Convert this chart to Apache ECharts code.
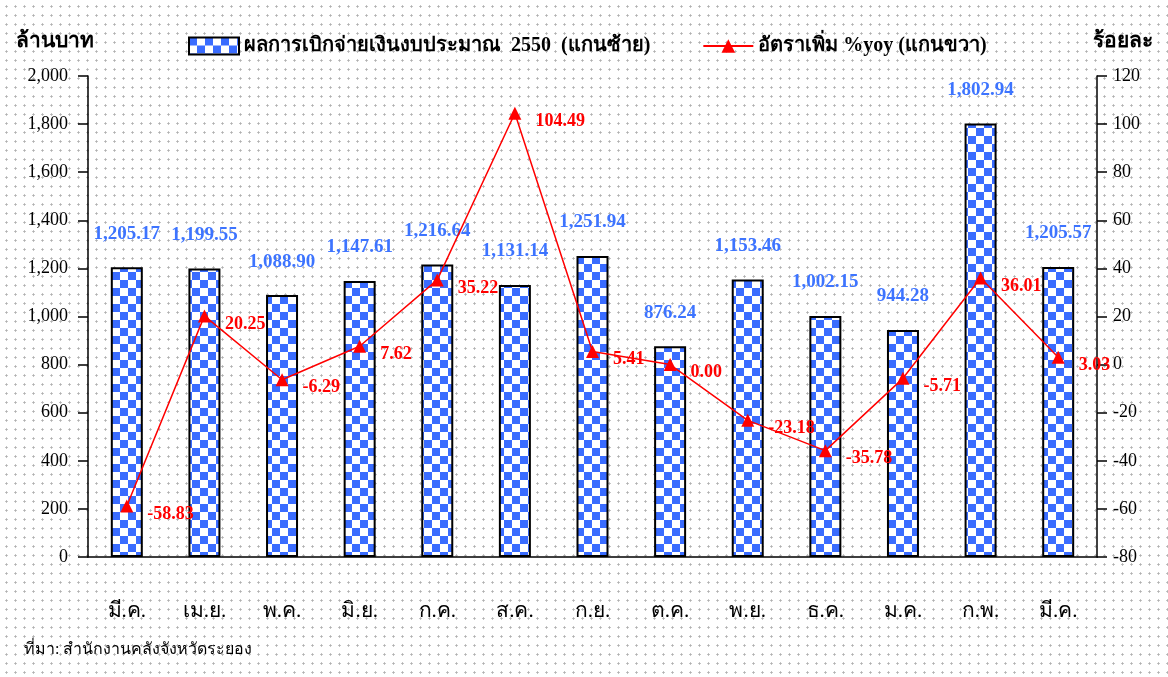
<!DOCTYPE html>
<html>
<head>
<meta charset="utf-8">
<script src="https://cdn.jsdelivr.net/npm/echarts@6/dist/echarts.min.js"></script>
<style>
  html, body { margin: 0; padding: 0; background: #fff; }
  #chart-container {
    width: 1168px; height: 677px;
    background-color: #fff;
    background-image: radial-gradient(#b0b0b0 0.9px, transparent 1.3px);
    background-size: 9px 9px;
    background-position: 2px 2px;
  }
</style>
</head>
<body>
<div id="chart-container"></div>
<script>
// Datos del gráfico
const meses = ['มี.ค.', 'เม.ย.', 'พ.ค.', 'มิ.ย.', 'ก.ค.', 'ส.ค.', 'ก.ย.', 'ต.ค.', 'พ.ย.', 'ธ.ค.', 'ม.ค.', 'ก.พ.', 'มี.ค.'];
const gastos = [1205.17, 1199.55, 1088.90, 1147.61, 1216.64, 1131.14, 1251.94, 876.24, 1153.46, 1002.15, 944.28, 1802.94, 1205.57];
const yoy = [-58.83, 20.25, -6.29, 7.62, 35.22, 104.49, 5.41, 0.00, -23.18, -35.78, -5.71, 36.01, 3.03];
const nombreBarras = 'ผลการเบิกจ่ายเงินงบประมาณ  2550  (แกนซ้าย)';
const nombreLinea = 'อัตราเพิ่ม %yoy (แกนขวา)';

const fuente = 'Liberation Serif, DejaVu Serif, serif';

// Patrón de cuadros para las barras
function patronCuadros() {
    const c = document.createElement('canvas');
    c.width = 16; c.height = 16;
    const ctx = c.getContext('2d');
    ctx.fillStyle = '#ffffff';
    ctx.fillRect(0, 0, 16, 16);
    ctx.fillStyle = '#3a6cff';
    ctx.fillRect(0, 0, 8, 8);
    ctx.fillRect(8, 8, 8, 8);
    return c;
}

function fmt(v) {
    return v.toLocaleString('en-US', { minimumFractionDigits: 2, maximumFractionDigits: 2 });
}

function initChart() {
    const chartDom = document.getElementById('chart-container');
    const myChart = echarts.init(chartDom, null, { renderer: 'canvas', devicePixelRatio: 1 });
    const patron = { image: patronCuadros(), repeat: 'repeat', imageWidth: 16, imageHeight: 16 };

    const option = {
        backgroundColor: 'transparent',
        textStyle: { fontFamily: fuente },
        animation: false,
        legend: {
            top: 31,
            left: 183,
            itemGap: 52,
            itemWidth: 50,
            itemHeight: 17,
            textStyle: { fontFamily: fuente, fontSize: 20, fontWeight: 'bold', color: '#000' },
            data: [{ name: nombreBarras, icon: 'rect' }, { name: nombreLinea }]
        },
        grid: { left: 88, right: 71, top: 76, bottom: 120 },
        xAxis: {
            type: 'category',
            data: meses,
            axisLine: { lineStyle: { color: '#000', width: 1.5 } },
            axisTick: { length: 12, lineStyle: { color: '#000', width: 1.5 } },
            axisLabel: { margin: 44, fontSize: 21, color: '#000', fontFamily: fuente }
        },
        yAxis: [{
            type: 'value',
            min: 0, max: 2000, interval: 200,
            name: 'ล้านบาท',
            nameGap: 24,
            nameTextStyle: { align: 'right', fontSize: 21, fontWeight: 'bold', color: '#000', fontFamily: fuente, padding: [0, -6, 0, 0] },
            splitLine: { show: false },
            axisLine: { show: true, lineStyle: { color: '#000', width: 1.5 } },
            axisTick: { show: true, length: 10, lineStyle: { color: '#000', width: 1.5 } },
            axisLabel: { fontSize: 18, color: '#000', margin: 20, fontFamily: fuente,
                formatter: v => v.toLocaleString('en-US') }
        }, {
            type: 'value',
            min: -80, max: 120, interval: 20,
            name: 'ร้อยละ',
            nameGap: 24,
            nameTextStyle: { align: 'left', fontSize: 21, fontWeight: 'bold', color: '#000', fontFamily: fuente, padding: [0, 0, 0, -4] },
            splitLine: { show: false },
            axisLine: { show: true, lineStyle: { color: '#000', width: 1.5 } },
            axisTick: { show: true, length: 10, lineStyle: { color: '#000', width: 1.5 } },
            axisLabel: { fontSize: 18, color: '#000', margin: 16, fontFamily: fuente }
        }],
        series: [{
            name: nombreBarras,
            type: 'bar',
            yAxisIndex: 0,
            barWidth: 32,
            data: gastos,
            itemStyle: { color: patron, borderColor: '#000', borderWidth: 2 },
            label: {
                show: true, position: 'top', distance: 24,
                fontSize: 19, fontWeight: 'bold', color: '#3d74ff', fontFamily: fuente,
                formatter: p => fmt(p.value)
            }
        }, {
            name: nombreLinea,
            type: 'line',
            yAxisIndex: 1,
            data: yoy,
            symbol: 'triangle',
            symbolSize: 13,
            lineStyle: { color: '#ff0000', width: 1.5 },
            itemStyle: { color: '#ff0000' },
            label: {
                show: true, position: 'right', distance: 10, offset: [4, 8],
                fontSize: 18, fontWeight: 'bold', color: '#ff0000', fontFamily: fuente,
                formatter: p => fmt(p.value)
            }
        }],
        graphic: [{
            type: 'text',
            left: 24, top: 642,
            style: { text: 'ที่มา: สำนักงานคลังจังหวัดระยอง', fontSize: 16, fill: '#000', fontFamily: fuente }
        }]
    };

    myChart.setOption(option);
}

initChart();
</script>
</body>
</html>
